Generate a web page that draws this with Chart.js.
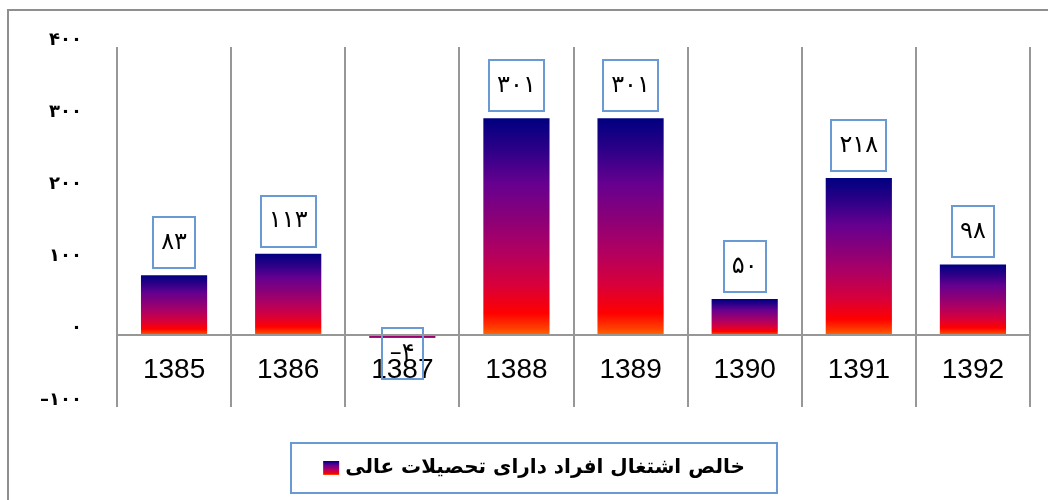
<!DOCTYPE html>
<html lang="fa">
<head>
<meta charset="utf-8">
<title>خالص اشتغال افراد دارای تحصیلات عالی</title>
<script src="https://cdn.jsdelivr.net/npm/chart.js@4.4.1/dist/chart.umd.min.js"></script>
<style>
  html, body { margin: 0; padding: 0; background: #fff; }
  #wrap { width: 1048px; height: 500px; position: relative; }
</style>
</head>
<body>
<div id="wrap"><canvas id="myChart"></canvas></div>
<script>
const years = ['1385', '1386', '1387', '1388', '1389', '1390', '1391', '1392'];
const netEmployment = [83, 113, -4, 301, 301, 50, 218, 98];
const yTicks = [-100, 0, 100, 200, 300, 400];
const seriesName = 'خالص اشتغال افراد دارای تحصیلات عالی';

const faDigits = '۰۱۲۳۴۵۶۷۸۹';
function toFa(n) {
  const s = String(Math.abs(n)).replace(/[0-9]/g, d => faDigits[d]);
  return n < 0 ? '\u2013' + s : s;
}

// same gradient on every bar, navy at the top down to orange at the bottom
function fillGradient(c, top, bottom) {
  const g = c.createLinearGradient(0, top, 0, bottom);
  g.addColorStop(0, '#000080');
  g.addColorStop(0.15, '#2e0088');
  g.addColorStop(0.3, '#660090');
  g.addColorStop(0.46, '#8a0078');
  g.addColorStop(0.61, '#b00062');
  g.addColorStop(0.77, '#d8003a');
  g.addColorStop(0.9, '#ff0000');
  g.addColorStop(0.97, '#ff4000');
  g.addColorStop(1, '#ff6a00');
  return g;
}

function barGradient(context) {
  const chart = context.chart;
  if (!chart.chartArea || context.type !== 'data') return '#660090';
  const v = context.raw;
  const y = chart.scales.y;
  const top = y.getPixelForValue(Math.max(v, 0));
  const bottom = y.getPixelForValue(Math.min(v, 0));
  return fillGradient(chart.ctx, top, bottom);
}

const frame = {
  id: 'frame',
  beforeDraw(chart) {
    const c = chart.ctx;
    c.save();
    c.strokeStyle = '#8f8f8f';
    c.lineWidth = 2;
    c.strokeRect(8, 10, chart.width + 10, chart.height + 10);
    c.restore();
  }
};

const valueBoxes = {
  id: 'valueBoxes',
  afterDatasetsDraw(chart) {
    const c = chart.ctx;
    const meta = chart.getDatasetMeta(0);
    const data = chart.data.datasets[0].data;
    c.save();
    c.font = '24px "DejaVu Sans"';
    c.textAlign = 'center';
    c.textBaseline = 'middle';
    meta.data.forEach((bar, i) => {
      const v = data[i];
      const txt = toFa(v);
      const w = Math.round(c.measureText(txt).width + 16);
      const h = 51;
      const top = v >= 0 ? bar.y - 7 - h : bar.y - 10;
      const left = Math.round(bar.x - w / 2);
      c.strokeStyle = '#6a9ad3';
      c.lineWidth = 2;
      c.strokeRect(left, Math.round(top), w, h);
      c.fillStyle = '#000';
      c.fillText(txt, bar.x, top + h / 2);
    });
    c.restore();
  }
};

const legendBox = {
  id: 'legendBox',
  afterDraw(chart) {
    const c = chart.ctx;
    const label = chart.data.datasets[0].label;
    c.save();
    c.font = 'bold 20px "DejaVu Sans"';
    const tw = c.measureText(label).width;
    const sw = 16, gap = 6, pad = 32;
    const cx = chart.width / 2 + 10;
    const cy = chart.chartArea.bottom + 61;
    const x0 = cx - (sw + gap + tw) / 2;
    c.strokeStyle = '#6a9ad3';
    c.lineWidth = 2;
    c.strokeRect(Math.round(x0 - pad), Math.round(cy - 25), Math.round(sw + gap + tw + pad * 2), 50);
    c.fillStyle = fillGradient(c, cy - 7, cy + 7);
    c.fillRect(x0, cy - 7, sw, 14);
    c.fillStyle = '#000';
    c.textAlign = 'left';
    c.textBaseline = 'middle';
    c.fillText(label, x0 + sw + gap, cy);
    c.restore();
  }
};

const ctx = document.getElementById('myChart');

new Chart(ctx, {
  type: 'bar',
  data: {
    labels: years,
    datasets: [{
      label: seriesName,
      data: netEmployment,
      backgroundColor: barGradient,
      barPercentage: 0.58,
      categoryPercentage: 1
    }]
  },
  options: {
    responsive: true,
    maintainAspectRatio: false,
    animation: false,
    layout: { padding: { left: 0, right: 18, top: 47, bottom: 93 } },
    plugins: {
      legend: { display: false },
      tooltip: { enabled: false }
    },
    scales: {
      x: {
        position: { y: 0 },
        grid: { offset: true, color: '#979797', lineWidth: 2, drawTicks: false },
        border: { display: true, color: '#979797', width: 2, z: 1 },
        ticks: {
          color: '#000',
          padding: 18,
          font: { family: 'Liberation Sans', size: 28 }
        }
      },
      y: {
        min: -100,
        max: 400,
        afterFit(scale) { scale.width = 117; },
        afterBuildTicks(scale) { scale.ticks = yTicks.map(v => ({ value: v })); },
        grid: { display: false },
        border: { display: false },
        ticks: {
          padding: 27,
          labelOffset: -7,
          color: '#000',
          font: { family: 'DejaVu Sans', size: 18, weight: 'bold' },
          callback: v => toFa(v)
        }
      }
    }
  },
  plugins: [frame, valueBoxes, legendBox]
});
</script>
</body>
</html>
